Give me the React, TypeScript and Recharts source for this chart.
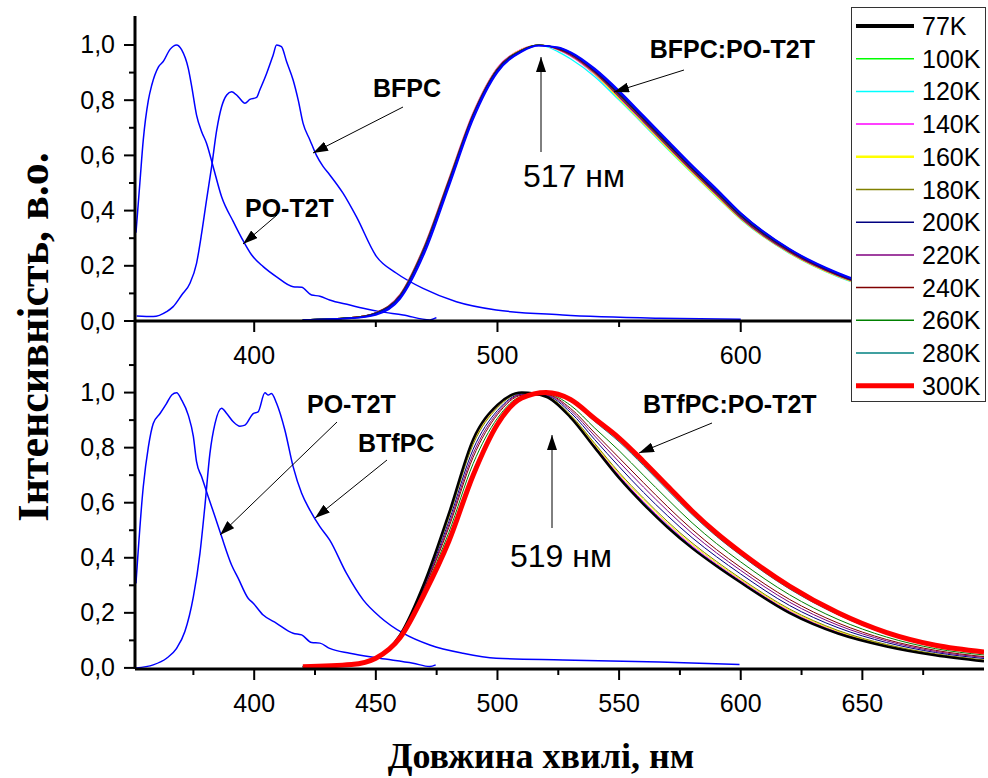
import React from 'react';
import { ComposedChart, Line, XAxis, YAxis, Legend } from 'recharts';

// ---------- categories / legend ----------
const TEMPERATURES = ['77K', '100K', '120K', '140K', '160K', '180K', '200K', '220K', '240K', '260K', '280K', '300K'];
const LEGEND_COLORS = ['#000000', '#00FF00', '#00FFFF', '#FF00FF', '#FFFF00', '#808000', '#000080', '#800080', '#800000', '#008000', '#008080', '#FF0000'];
const TOP_COLORS = ['#0000FF', '#00FF00', '#00FFFF', '#FF00FF', '#FFFF00', '#808000', '#000080', '#800080', '#800000', '#008000', '#008080', '#0000FF'];

// ---------- tick values ----------
const X_DOMAIN = [351, 700];
const TOP_X_TICKS = [400, 450, 500, 550, 600, 650];
const TOP_X_LABELS = [400, 500, 600];
const BOT_X_TICKS = [375, 400, 425, 450, 475, 500, 525, 550, 575, 600, 625, 650, 675];
const BOT_X_LABELS = [400, 450, 500, 550, 600, 650];
const TOP_Y_TICKS = [0, 0.1, 0.2, 0.3, 0.4, 0.5, 0.6, 0.7, 0.8, 0.9, 1.0];
const BOT_Y_TICKS = [0, 0.1, 0.2, 0.3, 0.4, 0.5, 0.6, 0.7, 0.8, 0.9, 1.0, 1.1];

// ---------- top panel: single-component spectra ----------
const PO_T2T_TOP_WL = [351.4, 353, 354.4, 356.5, 357.9, 360.6, 362.6, 365.4, 368.1, 370.2, 372.9, 374.3, 376.3, 378.4, 380.4, 383.1, 386.6, 391.4, 395.5, 398.9, 403.7, 409.2, 416, 419.5, 423.6, 427, 431, 439.3, 444.8, 451.6, 461.2, 472.2, 474.9];
const PO_T2T_TOP_I = [0.32, 0.5, 0.656, 0.8, 0.855, 0.92, 0.94, 0.984, 1.0, 0.982, 0.915, 0.85, 0.746, 0.686, 0.644, 0.56, 0.45, 0.36, 0.29, 0.24, 0.197, 0.16, 0.124, 0.122, 0.094, 0.09, 0.076, 0.058, 0.046, 0.034, 0.022, 0.004, 0.012];

const BFPC_WL = [351.7, 358.5, 364, 366.7, 370.2, 373.6, 376.3, 378.4, 380.4, 382.5, 384.6, 386.6, 388.7, 390.7, 393.4, 396.2, 398.2, 401, 402.3, 405.1, 407.8, 409.2, 411.2, 413.3, 416, 418.1, 420.1, 422.9, 425.6, 428.3, 431, 436.5, 442, 450.3, 458.5, 469.4, 483.1, 499.5, 526.8, 566.6, 600];
const BFPC_I = [0.018, 0.016, 0.034, 0.052, 0.094, 0.137, 0.209, 0.318, 0.438, 0.559, 0.692, 0.776, 0.819, 0.831, 0.813, 0.789, 0.803, 0.81, 0.837, 0.897, 0.964, 1.0, 0.994, 0.94, 0.873, 0.8, 0.716, 0.656, 0.6, 0.56, 0.53, 0.463, 0.378, 0.233, 0.173, 0.118, 0.07, 0.04, 0.022, 0.01, 0.006];

// ---------- top panel: BFPC:PO-T2T vs temperature ----------
const TOP_WL = [420, 440, 450, 460, 470, 480, 490, 500, 510, 517, 525, 530, 540, 550, 560, 570, 580, 590, 600, 620, 640, 660, 680, 700];
const TOP_77K = [0.004, 0.01, 0.025, 0.085, 0.255, 0.495, 0.74, 0.905, 0.978, 0.998, 0.992, 0.975, 0.915, 0.835, 0.745, 0.655, 0.565, 0.48, 0.392, 0.262, 0.175, 0.115, 0.076, 0.05];
const TOP_100K = [0.004, 0.012, 0.03, 0.095, 0.27, 0.51, 0.75, 0.915, 0.983, 1.0, 0.985, 0.965, 0.9, 0.815, 0.725, 0.635, 0.545, 0.46, 0.375, 0.25, 0.165, 0.108, 0.07, 0.047];
const TOP_120K = [0.004, 0.012, 0.03, 0.095, 0.272, 0.512, 0.752, 0.915, 0.983, 1.0, 0.975, 0.95, 0.885, 0.8, 0.712, 0.622, 0.535, 0.45, 0.368, 0.245, 0.16, 0.105, 0.068, 0.045];
const TOP_140K = [0.004, 0.012, 0.031, 0.097, 0.274, 0.515, 0.755, 0.918, 0.985, 1.0, 0.982, 0.96, 0.893, 0.807, 0.716, 0.627, 0.538, 0.453, 0.37, 0.247, 0.162, 0.106, 0.069, 0.046];
const TOP_160K = [0.004, 0.012, 0.03, 0.096, 0.272, 0.512, 0.752, 0.916, 0.984, 1.0, 0.983, 0.962, 0.895, 0.805, 0.715, 0.625, 0.537, 0.452, 0.369, 0.246, 0.161, 0.105, 0.068, 0.045];
const TOP_180K = [0.004, 0.012, 0.03, 0.094, 0.268, 0.508, 0.748, 0.913, 0.982, 0.999, 0.986, 0.966, 0.902, 0.818, 0.728, 0.638, 0.548, 0.463, 0.378, 0.252, 0.166, 0.109, 0.071, 0.048];
const TOP_200K = [0.004, 0.011, 0.028, 0.09, 0.262, 0.502, 0.745, 0.91, 0.98, 0.999, 0.988, 0.969, 0.906, 0.823, 0.733, 0.643, 0.553, 0.468, 0.382, 0.256, 0.169, 0.111, 0.073, 0.049];
const TOP_220K = [0.004, 0.012, 0.03, 0.095, 0.27, 0.51, 0.75, 0.914, 0.982, 1.0, 0.984, 0.963, 0.898, 0.812, 0.722, 0.632, 0.543, 0.458, 0.373, 0.249, 0.164, 0.107, 0.07, 0.047];
const TOP_240K = [0.004, 0.012, 0.029, 0.093, 0.267, 0.507, 0.748, 0.913, 0.982, 1.0, 0.986, 0.967, 0.903, 0.82, 0.73, 0.64, 0.55, 0.465, 0.38, 0.254, 0.167, 0.11, 0.072, 0.048];
const TOP_260K = [0.004, 0.011, 0.028, 0.091, 0.264, 0.504, 0.746, 0.911, 0.981, 1.0, 0.988, 0.97, 0.908, 0.826, 0.737, 0.647, 0.556, 0.47, 0.385, 0.258, 0.17, 0.112, 0.073, 0.049];
const TOP_280K = [0.004, 0.011, 0.028, 0.09, 0.262, 0.5, 0.743, 0.909, 0.98, 0.999, 0.989, 0.971, 0.91, 0.828, 0.739, 0.649, 0.558, 0.472, 0.386, 0.259, 0.171, 0.113, 0.074, 0.049];
const TOP_300K = [0.004, 0.01, 0.022, 0.08, 0.245, 0.485, 0.73, 0.9, 0.975, 0.997, 0.99, 0.972, 0.91, 0.83, 0.74, 0.65, 0.56, 0.475, 0.39, 0.26, 0.172, 0.113, 0.074, 0.05];

// ---------- bottom panel: single-component spectra ----------
const PO_T2T_BOT_WL = [351.4, 354.4, 356.5, 358.5, 361.3, 364, 366.1, 368.1, 370.2, 372.9, 375, 376.3, 378.4, 381.1, 383.9, 386.6, 390.7, 393.4, 397.5, 399.6, 403.7, 409.2, 416, 419.5, 423.6, 427, 431, 439.3, 451.6, 465.3, 472.2, 474.6];
const PO_T2T_BOT_I = [0.307, 0.658, 0.803, 0.888, 0.924, 0.961, 0.991, 0.999, 0.973, 0.918, 0.84, 0.749, 0.694, 0.622, 0.549, 0.477, 0.374, 0.326, 0.253, 0.235, 0.192, 0.162, 0.126, 0.12, 0.092, 0.09, 0.071, 0.053, 0.035, 0.017, 0.005, 0.011];

const BTFPC_WL = [351.4, 358.5, 364, 368.1, 371.5, 375, 377.7, 379.7, 381.8, 383.9, 386.6, 388.7, 391.4, 394.1, 396.2, 399.6, 401.6, 404.4, 405.8, 407.1, 409.2, 412.6, 416, 419.5, 422.9, 427, 431, 437.9, 444.8, 451.6, 461.2, 472.2, 485.8, 499.5, 526.9, 566.6, 599.5];
const BTFPC_I = [0.0, 0.011, 0.035, 0.071, 0.132, 0.259, 0.416, 0.585, 0.779, 0.888, 0.943, 0.924, 0.894, 0.878, 0.882, 0.924, 0.93, 0.999, 0.991, 0.997, 0.961, 0.864, 0.731, 0.634, 0.573, 0.513, 0.465, 0.344, 0.247, 0.186, 0.126, 0.083, 0.053, 0.035, 0.029, 0.021, 0.012];

// ---------- bottom panel: BTfPC:PO-T2T vs temperature ----------
const BOT_WL = [420, 440, 450, 460, 470, 480, 490, 500, 510, 520, 530, 540, 550, 560, 570, 580, 590, 600, 620, 640, 660, 680, 700];
const BOT_77K = [0.004, 0.012, 0.035, 0.12, 0.31, 0.56, 0.83, 0.955, 1.0, 0.985, 0.91, 0.8, 0.69, 0.595, 0.51, 0.435, 0.37, 0.31, 0.2, 0.125, 0.078, 0.046, 0.024];
const BOT_100K = [0.004, 0.012, 0.035, 0.12, 0.309, 0.558, 0.827, 0.954, 1.0, 0.985, 0.911, 0.802, 0.693, 0.598, 0.513, 0.438, 0.372, 0.312, 0.202, 0.127, 0.079, 0.047, 0.025];
const BOT_120K = [0.004, 0.012, 0.035, 0.12, 0.308, 0.556, 0.825, 0.952, 0.999, 0.986, 0.913, 0.804, 0.696, 0.601, 0.516, 0.44, 0.375, 0.314, 0.204, 0.128, 0.08, 0.047, 0.025];
const BOT_140K = [0.004, 0.012, 0.035, 0.119, 0.308, 0.554, 0.822, 0.951, 0.999, 0.986, 0.914, 0.806, 0.699, 0.604, 0.519, 0.443, 0.377, 0.317, 0.206, 0.13, 0.081, 0.048, 0.026];
const BOT_160K = [0.004, 0.012, 0.035, 0.119, 0.306, 0.55, 0.817, 0.948, 0.998, 0.987, 0.917, 0.811, 0.705, 0.611, 0.525, 0.449, 0.382, 0.321, 0.21, 0.133, 0.083, 0.05, 0.027];
const BOT_180K = [0.004, 0.012, 0.035, 0.119, 0.304, 0.546, 0.812, 0.945, 0.997, 0.987, 0.919, 0.815, 0.71, 0.617, 0.531, 0.454, 0.387, 0.325, 0.214, 0.136, 0.085, 0.051, 0.029];
const BOT_200K = [0.004, 0.012, 0.035, 0.117, 0.299, 0.532, 0.794, 0.935, 0.994, 0.989, 0.928, 0.829, 0.731, 0.638, 0.552, 0.473, 0.404, 0.341, 0.227, 0.146, 0.092, 0.056, 0.034];
const BOT_220K = [0.004, 0.012, 0.035, 0.116, 0.294, 0.52, 0.778, 0.927, 0.992, 0.991, 0.936, 0.842, 0.748, 0.657, 0.57, 0.489, 0.418, 0.354, 0.239, 0.155, 0.098, 0.06, 0.038];
const BOT_240K = [0.004, 0.012, 0.035, 0.115, 0.29, 0.51, 0.765, 0.92, 0.99, 0.993, 0.943, 0.853, 0.763, 0.673, 0.585, 0.503, 0.43, 0.365, 0.249, 0.163, 0.103, 0.064, 0.041];
const BOT_260K = [0.004, 0.012, 0.035, 0.113, 0.283, 0.492, 0.742, 0.907, 0.986, 0.995, 0.954, 0.871, 0.789, 0.7, 0.612, 0.527, 0.452, 0.385, 0.266, 0.176, 0.112, 0.07, 0.047];
const BOT_280K = [0.004, 0.012, 0.035, 0.111, 0.274, 0.47, 0.713, 0.892, 0.982, 0.999, 0.969, 0.895, 0.821, 0.735, 0.645, 0.557, 0.478, 0.409, 0.287, 0.193, 0.123, 0.078, 0.055];
const BOT_300K = [0.004, 0.012, 0.035, 0.11, 0.27, 0.46, 0.7, 0.885, 0.98, 1.0, 0.975, 0.905, 0.835, 0.75, 0.66, 0.57, 0.49, 0.42, 0.297, 0.2, 0.128, 0.082, 0.058];

const TOP_SERIES = [TOP_77K, TOP_100K, TOP_120K, TOP_140K, TOP_160K, TOP_180K, TOP_200K, TOP_220K, TOP_240K, TOP_260K, TOP_280K, TOP_300K];
const BOT_SERIES = [BOT_77K, BOT_100K, BOT_120K, BOT_140K, BOT_160K, BOT_180K, BOT_200K, BOT_220K, BOT_240K, BOT_260K, BOT_280K, BOT_300K];

const toPoints = (xs: number[], ys: number[]) => xs.map((x, i) => ({ x, y: ys[i] }));

const SANS = '"Liberation Sans", Arial, sans-serif';
const SERIF = '"Liberation Serif", "Times New Roman", serif';
const AXIS_LINE = { stroke: '#000', strokeWidth: 3 };

const YTick = (props: any) => {
  const { x, y, payload } = props;
  const v = payload.value as number;
  const major = Math.round(v * 10) % 2 === 0;
  return (
    <g>
      <line x1={x} x2={x - (major ? 11 : 6)} y1={y} y2={y} stroke="#000" strokeWidth={2} />
      {major && (
        <text x={x - 20} y={y + 8.5} textAnchor="end" fontSize={25} fontFamily={SANS} fill="#000">
          {v.toFixed(1).replace('.', ',')}
        </text>
      )}
    </g>
  );
};

const makeXTick = (labels: number[]) => (props: any) => {
  const { x, y, payload } = props;
  const major = labels.includes(payload.value);
  return (
    <g>
      <line x1={x} x2={x} y1={y} y2={y + (major ? 11 : 6)} stroke="#000" strokeWidth={2} />
      {major && (
        <text x={x} y={y + 43} textAnchor="middle" fontSize={25} fontFamily={SANS} fill="#000">
          {payload.value}
        </text>
      )}
    </g>
  );
};

const TopXTick = makeXTick(TOP_X_LABELS);
const BotXTick = makeXTick(BOT_X_LABELS);

const LegendBox = () => (
  <div
    style={{
      width: 133,
      height: 393,
      border: '1px solid #333',
      background: '#fff',
      boxSizing: 'content-box',
    }}
  >
    <svg width={133} height={393}>
      {TEMPERATURES.map((t, i) => {
        const cy = 18 + i * 32.7;
        const w = i === 0 ? 4 : i === TEMPERATURES.length - 1 ? 5 : i === 4 ? 2.5 : 1.5;
        return (
          <g key={t}>
            <line x1={4} x2={62} y1={cy} y2={cy} stroke={LEGEND_COLORS[i]} strokeWidth={w} />
            <text x={70} y={cy + 9} fontSize={25} fontFamily={SANS} fill="#000">
              {t}
            </text>
          </g>
        );
      })}
    </svg>
  </div>
);

const Arrow = ({ x1, y1, x2, y2 }: { x1: number; y1: number; x2: number; y2: number }) => (
  <line x1={x1} y1={y1} x2={x2} y2={y2} stroke="#000" strokeWidth={1} markerEnd="url(#arrowHead)" />
);

export default function App() {
  const topOrder = [1, 2, 3, 4, 5, 7, 8, 9, 10, 6, 0, 11];
  const botOrder = [1, 2, 3, 4, 5, 6, 7, 8, 9, 10, 0, 11];
  return (
    <div style={{ position: 'absolute', left: 0, top: 0, width: 988, height: 778, background: '#fff', overflow: 'hidden' }}>
      {/* bottom panel */}
      <div style={{ position: 'absolute', left: 0, top: 300, zIndex: 1 }}>
        <ComposedChart width={988} height={478} margin={{ top: 21, right: 4, bottom: 0, left: 0 }}>
          <XAxis
            dataKey="x"
            type="number"
            domain={X_DOMAIN}
            allowDataOverflow
            ticks={BOT_X_TICKS}
            interval={0}
            tick={<BotXTick />}
            tickLine={false}
            tickSize={0}
            tickMargin={0}
            axisLine={AXIS_LINE}
            height={109}
          />
          <YAxis
            type="number"
            domain={[-0.004, 1.26]}
            allowDataOverflow
            ticks={BOT_Y_TICKS}
            interval={0}
            tick={<YTick />}
            tickLine={false}
            tickSize={0}
            tickMargin={0}
            axisLine={AXIS_LINE}
            width={135}
          />
          <YAxis yAxisId="right" orientation="right" type="number" domain={[0, 1]} width={0} tick={false} tickLine={false} axisLine={AXIS_LINE} />
          <Line data={toPoints(PO_T2T_BOT_WL, PO_T2T_BOT_I)} dataKey="y" type="monotone" dot={false} activeDot={false} stroke="#0000FF" strokeWidth={1.5} isAnimationActive={false} />
          <Line data={toPoints(BTFPC_WL, BTFPC_I)} dataKey="y" type="monotone" dot={false} activeDot={false} stroke="#0000FF" strokeWidth={1.5} isAnimationActive={false} />
          {botOrder.map((i) => (
            <Line
              key={'b' + i}
              data={toPoints(BOT_WL, BOT_SERIES[i])}
              dataKey="y"
              name={TEMPERATURES[i]}
              type="monotone"
              dot={false}
              activeDot={false}
              stroke={LEGEND_COLORS[i]}
              strokeWidth={i === 0 ? 2.5 : i === 11 ? 5 : 1}
              isAnimationActive={false}
            />
          ))}
        </ComposedChart>
      </div>

      {/* top panel */}
      <div style={{ position: 'absolute', left: 0, top: 0, zIndex: 2 }}>
        <ComposedChart width={988} height={380} margin={{ top: 16, right: 4, bottom: 0, left: 0 }}>
          <XAxis
            dataKey="x"
            type="number"
            domain={X_DOMAIN}
            allowDataOverflow
            ticks={TOP_X_TICKS}
            interval={0}
            tick={<TopXTick />}
            tickLine={false}
            tickSize={0}
            tickMargin={0}
            axisLine={AXIS_LINE}
            height={59}
          />
          <XAxis xAxisId="top" orientation="top" type="number" domain={X_DOMAIN} height={0} tick={false} tickLine={false} axisLine={AXIS_LINE} />
          <YAxis
            type="number"
            domain={[0, 1.105]}
            allowDataOverflow
            ticks={TOP_Y_TICKS}
            interval={0}
            tick={<YTick />}
            tickLine={false}
            tickSize={0}
            tickMargin={0}
            axisLine={AXIS_LINE}
            width={135}
          />
          <YAxis yAxisId="right" orientation="right" type="number" domain={[0, 1]} width={0} tick={false} tickLine={false} axisLine={AXIS_LINE} />
          <Line data={toPoints(PO_T2T_TOP_WL, PO_T2T_TOP_I)} dataKey="y" type="monotone" dot={false} activeDot={false} stroke="#0000FF" strokeWidth={1.5} isAnimationActive={false} />
          <Line data={toPoints(BFPC_WL, BFPC_I)} dataKey="y" type="monotone" dot={false} activeDot={false} stroke="#0000FF" strokeWidth={1.5} isAnimationActive={false} />
          {topOrder.map((i) => (
            <Line
              key={'t' + i}
              data={toPoints(TOP_WL, TOP_SERIES[i])}
              dataKey="y"
              name={TEMPERATURES[i]}
              type="monotone"
              dot={false}
              activeDot={false}
              stroke={TOP_COLORS[i]}
              strokeWidth={TOP_COLORS[i] === '#0000FF' ? 1.5 : 1.2}
              isAnimationActive={false}
            />
          ))}
          <Legend
            layout="vertical"
            align="center"
            verticalAlign="middle"
            content={<LegendBox />}
            wrapperStyle={{ left: 851, top: 7, width: 135, height: 395 }}
          />
        </ComposedChart>
      </div>

      {/* annotations and axis titles */}
      <svg width={988} height={778} style={{ position: 'absolute', left: 0, top: 0, zIndex: 3, pointerEvents: 'none' }}>
        <defs>
          <marker id="arrowHead" markerUnits="userSpaceOnUse" markerWidth={16} markerHeight={10} refX={15} refY={5} orient="auto">
            <path d="M0,0 L15,5 L0,10 z" fill="#000" />
          </marker>
        </defs>
        <g fontFamily={SANS} fontWeight="bold" fontSize={25} fill="#000">
          <text x={373} y={97}>BFPC</text>
          <text x={245} y={217}>PO-T2T</text>
          <text x={815} y={58} textAnchor="end">BFPC:PO-T2T</text>
          <text x={307} y={413}>PO-T2T</text>
          <text x={358} y={452}>BTfPC</text>
          <text x={643} y={413}>BTfPC:PO-T2T</text>
        </g>
        <g fontFamily={SANS} fontSize={32} fill="#000">
          <text x={523} y={187}>517 нм</text>
          <text x={510} y={567}>519 нм</text>
        </g>
        <Arrow x1={403} y1={107} x2={313} y2={153} />
        <Arrow x1={277} y1={215} x2={243} y2={244} />
        <Arrow x1={684} y1={70} x2={614} y2={92} />
        <Arrow x1={541} y1={152} x2={541} y2={57} />
        <Arrow x1={337} y1={422} x2={220} y2={535} />
        <Arrow x1={387} y1={460} x2={315} y2={518} />
        <Arrow x1={712} y1={423} x2={639} y2={453} />
        <Arrow x1={552} y1={528} x2={552} y2={435} />
        <text
          x={33}
          y={337}
          transform="rotate(-90, 33, 337)"
          textAnchor="middle"
          dominantBaseline="central"
          fontFamily={SERIF}
          fontWeight="bold"
          fontSize={44}
          fill="#000"
        >
          Інтенсивність, в.о.
        </text>
        <text x={541} y={768} textAnchor="middle" fontFamily={SERIF} fontWeight="bold" fontSize={36} fill="#000">
          Довжина хвилі, нм
        </text>
      </svg>
    </div>
  );
}
